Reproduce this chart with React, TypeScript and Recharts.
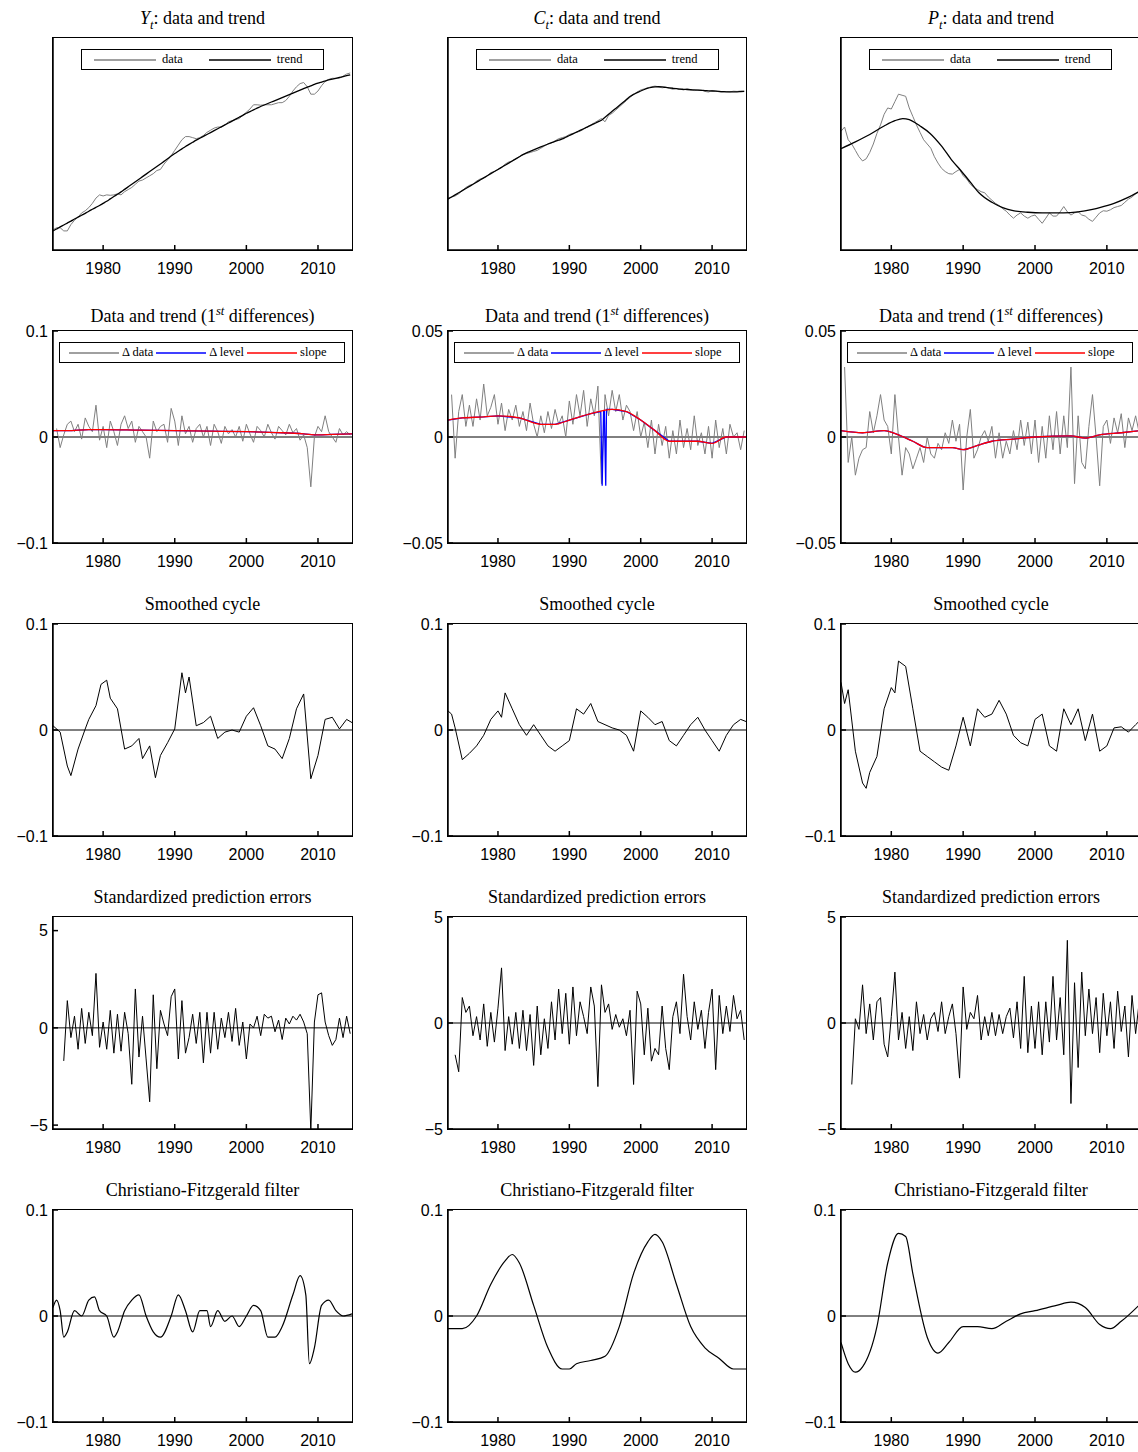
import React from "react";
import { LineChart, Line, XAxis, YAxis, ReferenceLine } from "recharts";

// ---------- data ----------
const YEAR_TICKS = [1980, 1990, 2000, 2010];
const X_DOMAIN = [1973, 2014.75];

// Row 1 (levels, arbitrary units 0..100), semiannual from 1973.0
const yTrend = [9.0,9.9,10.9,11.8,12.7,13.6,14.6,15.5,16.4,17.3,18.3,19.2,20.1,21.0,22.0,23.0,24.1,25.2,26.3,27.4,28.6,29.8,31.0,32.2,33.4,34.6,35.8,37.0,38.2,39.4,40.6,41.8,43.0,44.3,45.5,46.6,47.7,48.8,49.8,50.8,51.8,52.7,53.6,54.5,55.4,56.3,57.2,58.1,59.0,59.9,60.8,61.7,62.6,63.5,64.5,65.3,66.1,66.9,67.7,68.4,69.1,69.8,70.5,71.2,71.9,72.6,73.3,74.0,74.7,75.4,76.1,76.8,77.4,78.1,78.7,79.2,79.7,80.2,80.6,81.0,81.4,81.8,82.2,82.6];
const yData = [9.5,10.5,10.5,9.0,9.0,12,14,15.5,17.5,18.5,20,22,24.5,26,25.5,26,25.8,26,26.5,26,27.5,28.5,29.5,31,32.5,33,34,35,36,37.5,38,40.5,42.5,44.5,47,49.5,52,53.5,53.5,53,52.5,53,54,55.5,56.5,57.5,58,58,59,60.5,61,61.5,62,63.5,65,66.5,68.5,68.5,68.3,68.5,68.5,68.5,69,69.5,69.5,70.5,72.5,75,77,78.5,79,77,73.5,73.5,75,77.5,79.5,80.5,81,81,81,82,83,83.5];
const cTrend = [24,25,26,27,28,29,30,31,32,33,34,35,36,37,38,39,40,41,42,43,44,45,45.8,46.5,47.2,47.9,48.6,49.3,50,50.6,51.2,51.8,52.4,53.2,54,54.8,55.6,56.4,57.2,58,58.8,59.6,60.4,61.2,62.6,64,65.4,66.8,68.2,69.6,71,72.4,73.4,74.2,75,75.7,76.3,76.7,76.9,77,76.9,76.7,76.5,76.3,76.1,75.9,75.8,75.7,75.6,75.5,75.4,75.3,75.2,75.1,75,74.9,74.8,74.7,74.6,74.6,74.6,74.6,74.7,74.8];
const cData = [24.5,25,25.5,26.5,28,29.5,30.5,31,32.5,33.5,34,35,36.5,37,38,39,40.5,41.5,42,43,44,45,45.5,46,46.5,47,48,49,50,50.5,51.5,52.5,53,53.5,54.5,55,55.5,56,57,58,59,60,61,62,60.5,63.5,64.5,66,67.5,69,70.5,72,73.5,74.5,75.5,76,76.5,77,77.3,77,76.5,76.8,76.3,75.8,76.2,75.9,75.5,76,75.6,75.2,75.5,75.4,74.8,74.5,75.2,75,74.6,74.5,74.7,74.6,74.9,74.8,75,74.9];
const pData = [56,58,52,50,47,44,42,43,46,50,55,59,64,67,66.5,70,73.5,73,72.5,67,63,59,55.5,52,50,48,44,41,38.5,37,36,35.8,37,38,35,33.5,31,29.5,28.5,27.5,27,25,23.5,22,21,19.5,18.3,16.5,15,16.5,17.5,16,15,16,16.5,14.5,12.6,15,17.5,16,16,18,20.5,18,16.5,17.5,18,16.5,16,14.5,13.5,15.5,17.5,18.5,18.3,19,20,20.5,21,22.5,24,25,26.5,28];
const pTrendYears = [1973,1975,1977,1979,1980.5,1981.6,1982.5,1984,1985.4,1987,1988.5,1989.7,1991,1992.2,1994,1995.5,1997.1,1999,2001,2004,2006,2008,2009,2011,2012.8,2014.75];
const pTrendVals = [47.8,51,54.5,58.5,61,62,61.5,58.5,55,49,42,37.4,32,27,22.5,20,18.5,17.8,17.5,17.5,18,19.2,20,22,24.6,28];

// Row 2 (first differences), semiannual from 1973.5
const dY = [0.008,-0.01,0.002,0.012,0.015,0.005,0.012,-0.002,0.018,0.01,0.005,0.03,-0.003,0.01,-0.01,0.015,0.005,-0.008,0.012,0.02,0.008,0.015,-0.005,0.01,0.005,0.0,-0.02,0.015,0.005,0.01,0.012,-0.005,0.027,0.015,-0.008,0.02,0.003,0.01,-0.005,0.008,0.012,0.0,0.01,-0.008,0.012,0.005,-0.006,0.01,0.003,0.007,0.0,0.01,-0.004,0.012,0.003,-0.005,0.01,0.006,0.0,0.012,0.004,-0.002,0.01,0.006,0.002,0.012,0.004,0.008,-0.003,0.002,-0.01,-0.047,0.0,0.01,0.005,0.02,0.005,0.0,-0.005,0.008,0.002,0.005,0.002];
const slopeYYears = [1973,1975,1978,1980,1985,1990,1995,2000,2005,2008,2010,2012,2014.75];
const slopeYVals = [0.006,0.006,0.007,0.007,0.0065,0.006,0.0055,0.005,0.004,0.003,0.002,0.0025,0.003];
const dC = [0.02,-0.01,0.012,0.02,0.005,0.015,0.005,0.018,0.008,0.025,0.01,0.014,0.02,0.006,0.016,0.003,0.013,0.008,0.015,0.005,0.012,0.003,0.016,0.006,0.0,0.01,0.002,0.012,0.004,0.013,0.006,0.01,0.0,0.017,0.006,0.02,0.01,0.022,0.005,0.018,0.01,0.024,-0.022,0.02,0.01,0.022,0.012,0.02,0.008,0.015,0.012,0.003,0.012,0.0,0.007,-0.005,0.008,-0.008,0.006,-0.004,0.005,-0.01,0.003,-0.008,0.008,-0.005,0.004,-0.006,0.01,-0.004,0.002,-0.008,0.005,-0.01,0.008,-0.005,0.004,-0.008,0.006,0.0,0.002,-0.006,0.003];
const slopeCYears = [1973,1975,1978,1980,1983,1986,1988,1990,1993,1996,1998,2000,2002,2004,2006,2008,2010,2012,2014.75];
const slopeCVals = [0.008,0.009,0.0095,0.01,0.009,0.006,0.006,0.008,0.011,0.013,0.012,0.008,0.003,-0.002,-0.002,-0.002,-0.003,0.0,0.0];
const levelCYears = [1973,1975,1978,1980,1983,1986,1988,1990,1993,1994.4,1994.6,1994.8,1994.9,1995.1,1995.2,1996,1998,2000,2002,2004,2006,2008,2010,2012,2014.75];
const levelCVals = [0.008,0.009,0.0095,0.01,0.009,0.006,0.006,0.008,0.011,0.012,-0.023,0.012,0.012,-0.023,0.013,0.013,0.012,0.008,0.003,-0.002,-0.002,-0.002,-0.003,0.0,0.0];
const dP = [0.033,-0.012,0.0,-0.018,-0.01,-0.006,-0.005,0.012,0.002,0.01,0.02,0.008,0.005,-0.008,0.02,0.0,-0.018,-0.005,-0.008,-0.015,-0.01,-0.005,-0.012,0.0,-0.008,-0.01,-0.003,-0.006,0.002,-0.003,0.008,-0.002,0.006,-0.025,0.0,0.013,-0.01,-0.006,0.0,0.003,-0.002,0.005,-0.01,0.002,-0.01,-0.002,-0.008,0.003,-0.006,0.008,-0.004,0.007,-0.008,0.008,-0.012,0.005,-0.01,0.01,-0.006,0.012,-0.008,0.01,-0.005,0.033,-0.022,0.01,-0.012,-0.015,0.005,0.02,0.0,-0.023,0.005,0.008,-0.003,0.009,0.002,0.011,-0.005,0.009,0.003,0.01,0.002];
const slopePYears = [1973,1976,1979,1981,1983,1985,1987,1988.5,1990,1992,1994,1997,2000,2005,2007,2009,2012,2014.75];
const slopePVals = [0.003,0.002,0.003,0.001,-0.002,-0.005,-0.005,-0.005,-0.006,-0.004,-0.002,-0.001,0.0,0.0005,-0.0005,0.001,0.002,0.003];

// Row 3 (smoothed cycles)
const cycYYears = [1973,1974,1975,1975.5,1976.5,1977.5,1978,1979,1979.7,1980.5,1981,1982,1983,1984,1985,1985.5,1986.5,1987.3,1988,1989,1990,1991,1991.5,1992,1993,1994,1995,1996,1997,1998,1999,2000,2001,2002,2003,2004,2005,2006,2007,2008,2009,2010,2011,2012,2013,2014,2014.75];
const cycYVals = [0.004,-0.002,-0.034,-0.043,-0.018,0.001,0.01,0.023,0.043,0.047,0.03,0.02,-0.018,-0.015,-0.008,-0.027,-0.015,-0.045,-0.024,-0.012,0.001,0.054,0.035,0.05,0.004,0.007,0.013,-0.008,-0.002,0.0,-0.002,0.013,0.021,0.004,-0.015,-0.018,-0.027,-0.008,0.02,0.034,-0.046,-0.024,0.01,0.012,0.001,0.01,0.007];
const cycCYears = [1973,1973.5,1974,1975,1976,1977,1978,1979,1980,1980.5,1981,1982,1983,1984,1985,1986,1987,1988,1989,1990,1991,1992,1993,1994,1995,1996,1997,1998,1999,2000,2001,2002,2003,2004,2005,2006,2007,2008,2009,2010,2011,2012,2013,2014,2014.75];
const cycCVals = [0.018,0.015,0.002,-0.028,-0.022,-0.015,-0.005,0.01,0.018,0.012,0.035,0.02,0.005,-0.005,0.005,-0.005,-0.015,-0.02,-0.015,-0.01,0.02,0.015,0.025,0.008,0.005,0.002,0.0,-0.005,-0.02,0.018,0.012,0.005,0.008,-0.01,-0.015,-0.005,0.005,0.012,0.0,-0.01,-0.02,-0.005,0.005,0.01,0.008];
const cycPYears = [1973,1973.5,1974,1975,1976,1976.5,1977,1978,1979,1980,1980.5,1981,1982,1983,1984,1985,1986,1987,1988,1989,1990,1991,1992,1993,1994,1995,1996,1997,1998,1999,2000,2001,2002,2003,2004,2005,2006,2007,2008,2009,2010,2011,2012,2013,2014,2014.75];
const cycPVals = [0.045,0.025,0.038,-0.02,-0.05,-0.055,-0.04,-0.025,0.02,0.04,0.035,0.065,0.06,0.02,-0.02,-0.025,-0.03,-0.035,-0.038,-0.015,0.012,-0.015,0.02,0.012,0.015,0.028,0.015,-0.005,-0.012,-0.015,0.01,0.015,-0.015,-0.02,0.02,0.005,0.02,-0.01,0.015,-0.02,-0.015,0.002,0.003,-0.002,0.005,0.01];

// Row 4 (standardized prediction errors), semiannual
const errY = [-1.7,1.4,-0.5,0.6,-1.1,1.0,-0.8,0.8,-0.4,2.8,-1.0,0.3,-1.1,0.9,-1.3,0.7,-1.2,0.8,-0.3,-2.9,2.0,-1.5,0.6,-1.6,-3.8,1.7,-2.1,0.9,0.2,-0.4,1.6,2.0,-1.6,1.4,-1.3,-0.5,0.7,-0.8,0.8,-1.8,0.8,-1.3,0.8,-1.1,0.5,-0.5,0.8,-0.7,1.0,-0.9,0.3,-1.6,0.2,0.0,0.6,-0.4,0.7,0.5,0.6,-0.2,0.4,-0.6,0.5,0.2,0.6,0.4,0.7,0.3,-0.3,-5.3,0.3,1.7,1.8,0.3,-0.4,-0.9,-0.6,0.5,-0.5,0.6,-0.3];
const errC = [-1.5,-2.3,1.2,0.5,0.8,-0.6,0.3,-0.8,0.9,-1.1,0.5,-0.9,0.7,2.6,-1.3,0.3,-1.0,0.5,-1.2,0.6,-1.3,0.4,-2.0,0.8,-1.5,0.2,-1.2,1.0,-0.8,1.6,-0.5,1.4,-1.0,1.7,-0.6,1.0,0.3,-0.5,1.7,0.8,-3.0,1.8,0.5,0.9,-0.3,0.4,-0.2,0.2,-0.6,0.6,-2.9,1.5,0.9,-1.5,0.7,-1.8,-1.2,-1.5,0.8,-1.2,-2.2,0.3,1.0,-0.5,2.3,0.3,-0.8,1.0,-0.3,0.6,-1.2,0.5,1.6,-2.2,1.3,-0.5,0.8,-0.4,1.3,0.2,0.6,-0.8];
const errP = [-2.9,0.2,-0.3,1.8,-0.5,0.9,-0.8,1.0,1.2,-1.0,-1.6,0.3,2.4,-0.8,0.5,-1.2,0.3,-1.3,1.0,-0.5,0.4,-0.8,0.2,0.5,-0.4,1.0,-0.5,0.3,0.9,-0.5,-2.6,1.7,-0.3,0.5,0.2,1.3,-0.8,0.3,-0.6,0.5,-0.6,0.4,-0.5,0.3,0.7,-0.7,1.0,-1.2,2.2,-1.4,0.8,-1.2,1.0,-1.5,1.0,-0.9,2.2,-0.8,1.2,-1.5,3.9,-3.8,1.9,-2.1,2.4,-0.6,1.6,-0.5,1.2,-1.4,1.4,-0.6,1.0,-1.2,1.5,-0.4,0.8,-1.6,1.3,-0.5,1.0];

// Row 5 (Christiano-Fitzgerald filter)
const cfYYears = [1973,1973.5,1974,1974.5,1975,1976,1977,1978,1978.8,1979.5,1980.5,1981.5,1982,1983,1984,1985,1986,1987,1988,1989.5,1990.5,1991.5,1992.5,1993.5,1994.5,1995,1996,1997,1998,1999,2000,2001,2002,2003,2004,2005,2006.5,2007.5,2008.3,2008.8,2009.5,2010.5,2011.5,2012.5,2013.5,2014.75];
const cfYVals = [0.008,0.015,0.005,-0.02,-0.015,0.005,0.0,0.015,0.018,0.005,0.0,-0.02,-0.015,0.005,0.015,0.02,0.0,-0.015,-0.02,0.0,0.02,0.005,-0.015,0.005,0.005,-0.01,0.005,-0.005,0.0,-0.01,0.0,0.01,0.005,-0.02,-0.02,-0.01,0.02,0.038,0.02,-0.045,-0.03,0.01,0.015,0.005,0.0,0.002];
const cfCYears = [1973,1975,1977,1979,1981,1982,1983,1985,1987,1989,1990,1991,1993,1995,1997,1999,2001,2002,2003,2005,2007,2009,2011,2013,2014.75];
const cfCVals = [-0.012,-0.012,0.0,0.03,0.052,0.058,0.05,0.01,-0.03,-0.05,-0.05,-0.045,-0.042,-0.038,-0.01,0.04,0.07,0.077,0.07,0.03,-0.01,-0.03,-0.04,-0.05,-0.05];
const cfPYears = [1973,1974,1975,1976,1978,1979.5,1981,1982,1983,1985,1986.5,1988,1990,1992,1994,1996,1998,2000,2003,2005,2007,2009,2010.5,2012,2014.75];
const cfPVals = [-0.025,-0.045,-0.053,-0.048,-0.01,0.05,0.078,0.075,0.04,-0.02,-0.035,-0.025,-0.01,-0.01,-0.012,-0.005,0.002,0.005,0.01,0.013,0.008,-0.008,-0.012,-0.005,0.012];

// ---------- helpers ----------
const semi = (start: number, vals: number[]) => vals.map((v, i) => ({ x: start + i * 0.5, y: v }));
const pairs = (xs: number[], vs: number[]) => xs.map((x, i) => ({ x, y: vs[i] }));

const GRAY = "#808080";
const COL_LEFT = [53, 448, 841];
const COL_W = [299, 298, 300];
const ROW_TOP = [38, 331, 624, 917, 1210];
const PLOT_H = 212;
const ML = 60, MT = 10, MR = 10, MB = 40;

const fmt = (v: number) => (v < 0 ? "\u2212" + String(-v) : String(v));

type Series = { data: { x: number; y: number }[]; color: string; width: number; smooth?: boolean };
type Panel = {
  row: number; col: number; title: React.ReactNode; domain: [number, number];
  ticks?: number[]; series: Series[]; zero: boolean; legend?: "lvl" | "diff";
};

const st = <sup style={{ fontSize: "0.7em" }}><i>st</i></sup>;
const diffTitle = <span>Data and trend (1{st} differences)</span>;
const sub = (t: string) => <sub style={{ fontSize: "0.7em" }}><i>{t}</i></sub>;

const panels: Panel[] = [
  { row: 0, col: 0, title: <span><i>Y</i>{sub("t")}: data and trend</span>, domain: [0, 100], series: [
    { data: semi(1973, yData), color: GRAY, width: 1 }, { data: semi(1973, yTrend), color: "#000", width: 1.3, smooth: true }], zero: false, legend: "lvl" },
  { row: 0, col: 1, title: <span><i>C</i>{sub("t")}: data and trend</span>, domain: [0, 100], series: [
    { data: semi(1973, cData), color: GRAY, width: 1 }, { data: semi(1973, cTrend), color: "#000", width: 1.3, smooth: true }], zero: false, legend: "lvl" },
  { row: 0, col: 2, title: <span><i>P</i>{sub("t")}: data and trend</span>, domain: [0, 100], series: [
    { data: semi(1973, pData), color: GRAY, width: 1 }, { data: pairs(pTrendYears, pTrendVals), color: "#000", width: 1.3, smooth: true }], zero: false, legend: "lvl" },
  { row: 1, col: 0, title: diffTitle, domain: [-0.1, 0.1], ticks: [-0.1, 0, 0.1], series: [
    { data: semi(1973.5, dY), color: GRAY, width: 1 }, { data: pairs(slopeYYears, slopeYVals), color: "#0000ff", width: 1.3, smooth: true }, { data: pairs(slopeYYears, slopeYVals), color: "#ff0000", width: 1.3, smooth: true }], zero: true, legend: "diff" },
  { row: 1, col: 1, title: diffTitle, domain: [-0.05, 0.05], ticks: [-0.05, 0, 0.05], series: [
    { data: semi(1973.5, dC), color: GRAY, width: 1 }, { data: pairs(levelCYears, levelCVals), color: "#0000ff", width: 1.3 }, { data: pairs(slopeCYears, slopeCVals), color: "#ff0000", width: 1.3, smooth: true }], zero: true, legend: "diff" },
  { row: 1, col: 2, title: diffTitle, domain: [-0.05, 0.05], ticks: [-0.05, 0, 0.05], series: [
    { data: semi(1973.5, dP), color: GRAY, width: 1 }, { data: pairs(slopePYears, slopePVals), color: "#0000ff", width: 1.3, smooth: true }, { data: pairs(slopePYears, slopePVals), color: "#ff0000", width: 1.3, smooth: true }], zero: true, legend: "diff" },
  { row: 2, col: 0, title: "Smoothed cycle", domain: [-0.1, 0.1], ticks: [-0.1, 0, 0.1], series: [{ data: pairs(cycYYears, cycYVals), color: "#000", width: 1 }], zero: true },
  { row: 2, col: 1, title: "Smoothed cycle", domain: [-0.1, 0.1], ticks: [-0.1, 0, 0.1], series: [{ data: pairs(cycCYears, cycCVals), color: "#000", width: 1 }], zero: true },
  { row: 2, col: 2, title: "Smoothed cycle", domain: [-0.1, 0.1], ticks: [-0.1, 0, 0.1], series: [{ data: pairs(cycPYears, cycPVals), color: "#000", width: 1 }], zero: true },
  { row: 3, col: 0, title: "Standardized prediction errors", domain: [-5.2, 5.7], ticks: [-5, 0, 5], series: [{ data: semi(1974.5, errY), color: "#000", width: 1 }], zero: true },
  { row: 3, col: 1, title: "Standardized prediction errors", domain: [-5, 5], ticks: [-5, 0, 5], series: [{ data: semi(1974, errC), color: "#000", width: 1 }], zero: true },
  { row: 3, col: 2, title: "Standardized prediction errors", domain: [-5, 5], ticks: [-5, 0, 5], series: [{ data: semi(1974.5, errP), color: "#000", width: 1 }], zero: true },
  { row: 4, col: 0, title: "Christiano-Fitzgerald filter", domain: [-0.1, 0.1], ticks: [-0.1, 0, 0.1], series: [{ data: pairs(cfYYears, cfYVals), color: "#000", width: 1.2, smooth: true }], zero: true },
  { row: 4, col: 1, title: "Christiano-Fitzgerald filter", domain: [-0.1, 0.1], ticks: [-0.1, 0, 0.1], series: [{ data: pairs(cfCYears, cfCVals), color: "#000", width: 1.2, smooth: true }], zero: true },
  { row: 4, col: 2, title: "Christiano-Fitzgerald filter", domain: [-0.1, 0.1], ticks: [-0.1, 0, 0.1], series: [{ data: pairs(cfPYears, cfPVals), color: "#000", width: 1.2, smooth: true }], zero: true },
];

const SERIF = "'Liberation Serif', 'DejaVu Serif', serif";
const SANS = "'Liberation Sans', Arial, sans-serif";

const Seg = ({ color, w }: { color: string; w: number }) => (
  <svg width={w} height={6} style={{ display: "inline-block", verticalAlign: "middle" }}>
    <line x1={0} y1={3} x2={w} y2={3} stroke={color} strokeWidth={1.3} />
  </svg>
);

function LegendBox({ kind, left, top }: { kind: "lvl" | "diff"; left: number; top: number }) {
  const box: React.CSSProperties = {
    position: "absolute", top, background: "#fff", border: "1.5px solid #000", fontFamily: SERIF,
    fontSize: 12.5, display: "flex", alignItems: "center", height: 21, boxSizing: "border-box", whiteSpace: "nowrap",
  };
  if (kind === "lvl") {
    return (
      <div style={{ ...box, left: left + 28, width: 243, paddingLeft: 12, gap: 6 }}>
        <Seg color={GRAY} w={62} /><span>data</span><span style={{ width: 14 }} />
        <Seg color="#000" w={62} /><span>trend</span>
      </div>
    );
  }
  return (
    <div style={{ ...box, left: left + 6, width: 286, paddingLeft: 9, gap: 3 }}>
      <Seg color={GRAY} w={50} /><span>Δ data</span>
      <Seg color="#0000ff" w={50} /><span>Δ level</span>
      <Seg color="#ff0000" w={50} /><span>slope</span>
    </div>
  );
}

function PanelChart({ p }: { p: Panel }) {
  const left = COL_LEFT[p.col], top = ROW_TOP[p.row], w = COL_W[p.col];
  return (
    <>
      <div style={{ position: "absolute", left: left - 40, width: w + 80, top: top - 31, textAlign: "center", fontFamily: SERIF, fontSize: 18, lineHeight: "22px" }}>
        {p.title}
      </div>
      <div style={{ position: "absolute", left: left - ML, top: top - MT }}>
        <LineChart width={w + ML + MR} height={PLOT_H + MT + MB} margin={{ left: 0, top: MT, right: MR, bottom: 0 }}>
          <XAxis dataKey="x" type="number" domain={X_DOMAIN} ticks={YEAR_TICKS} allowDataOverflow
            stroke="#000" strokeWidth={1.5} tickSize={-5} tickMargin={18} tick={{ fill: "#000", fontFamily: SANS, fontSize: 16 }} height={MB} />
          <YAxis type="number" domain={p.domain} ticks={p.ticks ?? []} allowDataOverflow width={ML}
            stroke="#000" strokeWidth={1.5} tickSize={p.ticks ? -5 : 0} tickMargin={10} tickFormatter={fmt}
            tick={{ fill: "#000", fontFamily: SANS, fontSize: 16 }} />
          {p.zero && <ReferenceLine y={0} stroke="#000" strokeWidth={1} />}
          {p.series.map((s, i) => (
            <Line key={i} data={s.data} dataKey="y" type={s.smooth ? "monotone" : "linear"} dot={false}
              stroke={s.color} strokeWidth={s.width} isAnimationActive={false} />
          ))}
        </LineChart>
      </div>
      <div style={{ position: "absolute", left: left - 0.75, top: top - 0.75, width: w + 1.5, height: PLOT_H + 1.5, border: "1.5px solid #000", boxSizing: "border-box", pointerEvents: "none" }} />
      {p.legend && <LegendBox kind={p.legend} left={left} top={top + 11} />}
    </>
  );
}

export default function App() {
  return (
    <div style={{ position: "absolute", left: 0, top: 0, width: 1138, height: 1452, overflow: "hidden", background: "#fff" }}>
      {panels.map((p, i) => <PanelChart key={i} p={p} />)}
    </div>
  );
}
